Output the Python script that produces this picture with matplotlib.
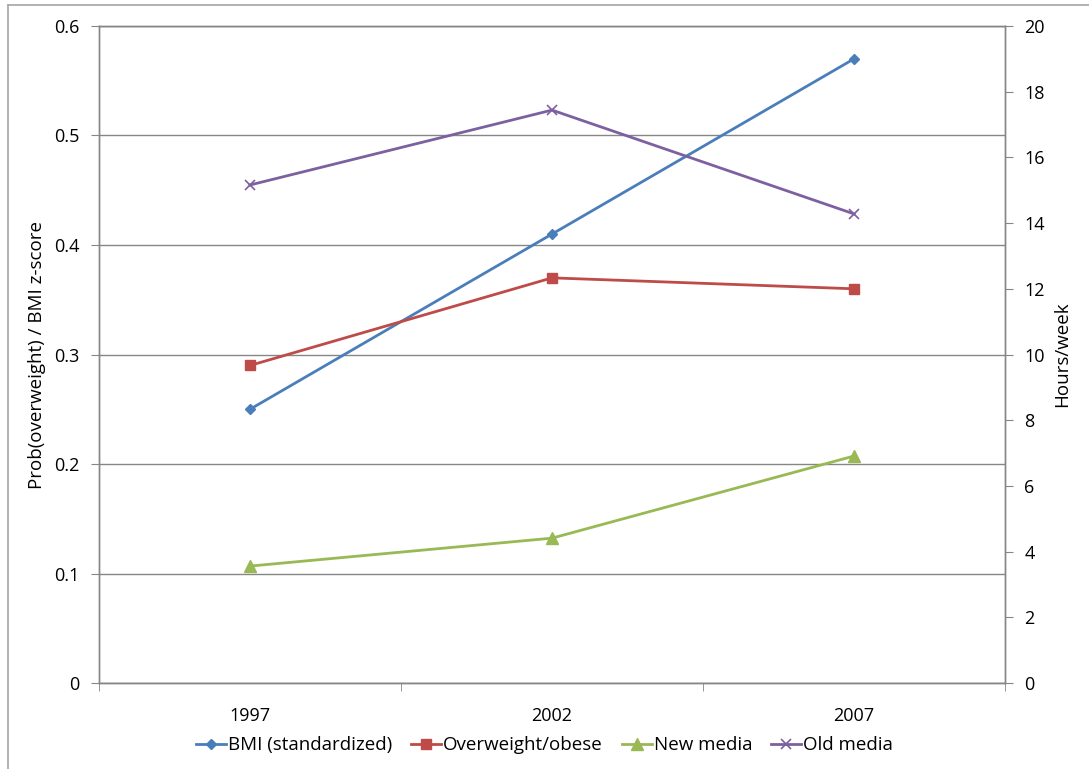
import numpy as np
import matplotlib.pyplot as plt
from matplotlib.lines import Line2D

plt.rcParams['font.family'] = ['Open Sans', 'DejaVu Sans']

# data
years = ['1997', '2002', '2007']
bmi = [0.25, 0.41, 0.57]
overweight = [0.29, 0.37, 0.36]
new_media = [3.56, 4.41, 6.91]      # hours/week (right axis)
old_media = [15.16, 17.44, 14.28]   # hours/week (right axis)

blue = '#4A7EBB'
red = '#BE4B48'
green = '#98B954'
purple = '#7D60A0'
axis_gray = '#868686'

fig = plt.figure(figsize=(10.89, 7.69), dpi=100)
ax = fig.add_axes([0.0909, 0.1118, 0.8320, 0.8544])
ax2 = ax.twinx()

x = np.arange(len(years))
l1, = ax.plot(x, bmi, color=blue, lw=2.0, marker='D', ms=5, label='BMI (standardized)')
l2, = ax.plot(x, overweight, color=red, lw=2.0, marker='s', ms=7, label='Overweight/obese')
l3, = ax2.plot(x, new_media, color=green, lw=2.0, marker='^', ms=8, label='New media')
l4, = ax2.plot(x, old_media, color=purple, lw=2.0, marker='x', ms=7, mew=1.2, label='Old media')

# left axis
ax.set_ylim(0, 0.6)
ax.set_yticks(np.arange(0, 0.61, 0.1))
ax.set_yticklabels(['0', '0.1', '0.2', '0.3', '0.4', '0.5', '0.6'])
ax.yaxis.grid(True, color=axis_gray, lw=1.0)
ax.set_axisbelow(True)
ax.set_ylabel('Prob(overweight) / BMI z-score', fontsize=13.5, labelpad=6)

# right axis
ax2.set_ylim(0, 20)
ax2.set_yticks(np.arange(0, 21, 2))
ax2.set_ylabel('Hours/week', fontsize=13.5, labelpad=6)

# category x axis
ax.set_xlim(-0.5, 2.5)
ax.set_xticks(x)
ax.set_xticklabels(years)
ax.set_xticks([-0.5, 0.5, 1.5, 2.5], minor=True)
ax.tick_params(axis='x', which='major', length=0, pad=17, labelsize=13)
ax.tick_params(axis='x', which='minor', length=6, color=axis_gray, direction='out')
ax.tick_params(axis='y', length=6, color=axis_gray, labelsize=13, pad=8)
ax2.tick_params(axis='y', length=6, color=axis_gray, labelsize=13, pad=8)

for a in (ax, ax2):
    for s in a.spines.values():
        s.set_color(axis_gray)
        s.set_linewidth(1.0)

fig.legend(handles=[l1, l2, l3, l4], loc='center', bbox_to_anchor=(0.5, 0.031),
           ncol=4, frameon=False, fontsize=13.5, handlelength=1.6,
           handletextpad=0.1, columnspacing=1.0)

# outer chart frame (top and left edges visible)
fig.add_artist(Line2D([0.0075, 1.0], [0.9935, 0.9935], color='#A6A6A6', lw=1.2,
                      transform=fig.transFigure))
fig.add_artist(Line2D([0.0075, 0.0075], [0.0, 0.9935], color='#A6A6A6', lw=1.2,
                      transform=fig.transFigure))

fig.savefig('out.png', dpi=100)
